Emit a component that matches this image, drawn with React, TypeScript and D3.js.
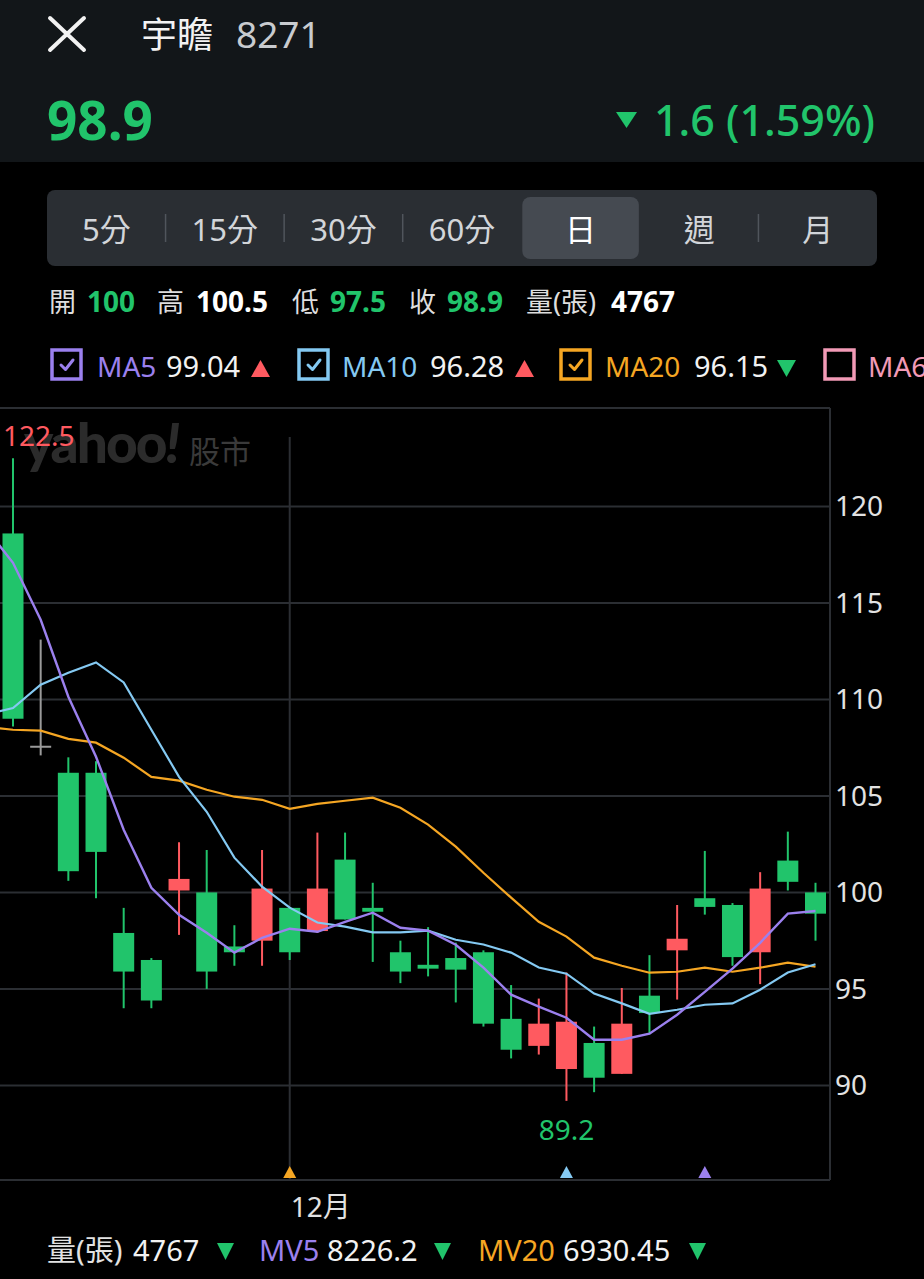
import * as d3 from "d3";

const FONT = "'Noto Sans', 'Noto Sans CJK TC', sans-serif";
const GREEN = "#21c46b";
const RED = "#ff5a60";
const PURPLE = "#9b80ee";
const BLUE = "#84c9f2";
const ORANGE = "#f5a623";
const PINK = "#f29ab6";

// daily candles, left to right (last = today)
const opens = [118.6, 107.6, 106.2, 106.2, 97.9, 96.5, 100.1, 100.0, 97.2, 97.5, 99.2, 98.0, 101.7, 99.2, 96.9, 96.25, 96.6, 96.9, 93.45, 92.05, 90.85, 92.2, 90.6, 94.65, 97.0, 99.7, 99.35, 96.9, 101.65, 100];
const highs = [122.5, 113.1, 107.0, 106.8, 99.2, 96.6, 102.6, 102.2, 98.3, 102.2, 99.2, 103.1, 103.1, 100.5, 97.5, 98.2, 97.4, 97.0, 95.2, 94.5, 95.85, 93.05, 95.05, 96.75, 99.35, 102.15, 99.45, 101.05, 103.15, 100.5];
const lows = [108.6, 107.1, 100.6, 99.7, 94.0, 94.0, 97.8, 95.0, 96.2, 96.2, 96.5, 97.9, 98.6, 96.4, 95.3, 95.65, 94.3, 93.05, 91.4, 91.6, 89.2, 89.65, 90.6, 92.65, 94.45, 98.85, 96.2, 95.25, 100.1, 97.5];
const closes = [109.0, 107.6, 101.1, 102.1, 95.9, 94.4, 100.7, 95.9, 96.9, 100.2, 96.9, 100.2, 98.6, 99.0, 95.9, 96.05, 96.0, 93.2, 91.85, 93.2, 93.3, 90.4, 93.2, 93.75, 97.6, 99.25, 96.65, 100.2, 100.55, 98.9];

// moving averages; first entry is the day just off the left edge
const ma5 = [118.9, 117.08, 114.13, 110.14, 107.03, 103.25, 100.24, 98.84, 97.91, 96.88, 97.65, 98.12, 97.96, 98.48, 98.95, 98.17, 98.02, 97.29, 96.1, 94.7, 94.08, 93.51, 92.37, 92.37, 92.68, 93.66, 94.85, 96.05, 97.39, 98.9, 99.04];
const ma10 = [109.21, 109.55, 110.76, 111.38, 111.92, 110.88, 108.43, 105.99, 104.18, 101.8, 100.3, 99.21, 98.44, 98.23, 97.93, 97.93, 98.02, 97.55, 97.3, 96.88, 96.11, 95.79, 94.76, 94.25, 93.71, 93.92, 94.18, 94.25, 94.96, 95.85, 96.28];
const ma20 = [108.59, 108.43, 108.38, 107.96, 107.76, 106.98, 105.99, 105.79, 105.32, 104.96, 104.8, 104.33, 104.59, 104.75, 104.91, 104.39, 103.51, 102.37, 101.02, 99.73, 98.48, 97.71, 96.62, 96.2, 95.84, 95.89, 96.1, 95.89, 96.1, 96.36, 96.15];

const priceTicks = [90, 95, 100, 105, 110, 115, 120];
const monthTick = { index: 10, label: "12月" };
const signals = [
  { index: 10, color: ORANGE },
  { index: 20, color: BLUE },
  { index: 25, color: PURPLE },
];

const periods = ["5分", "15分", "30分", "60分", "日", "週", "月"];
const selectedPeriod = "日";

const quoteLabels = ["開", "高", "低", "收", "量(張)"];
const quoteValues = ["100", "100.5", "97.5", "98.9", "4767"];
const quoteColors = [GREEN, "#ffffff", GREEN, GREEN, "#ffffff"];

const maNames = ["MA5", "MA10", "MA20", "MA60"];
const maValues = ["99.04", "96.28", "96.15", ""];
const maTrend = ["up", "up", "down", ""];
const maColors = [PURPLE, BLUE, ORANGE, PINK];
const maChecked = [true, true, true, false];

const volNames = ["量(張)", "MV5", "MV20"];
const volValues = ["4767", "8226.2", "6930.45"];
const volColors = ["#e2e2e2", PURPLE, ORANGE];

const Tri = ({ x, y, w, h, up, fill }: { x: number; y: number; w: number; h: number; up: boolean; fill: string }) => (
  <path
    d={up ? `M${x},${y + h}L${x + w / 2},${y}L${x + w},${y + h}Z` : `M${x},${y}L${x + w},${y}L${x + w / 2},${y + h}Z`}
    fill={fill}
  />
);

const App = () => {
  const W = 924;
  const H = 1279;
  const plot = { left: 0, right: 830, top: 408, bottom: 1180 };

  const x = d3.scaleLinear().domain([0, 29]).range([13, 815.5]);
  const y = d3.scaleLinear().domain([85.1, 125.1]).range([plot.bottom, plot.top]);
  const candleW = 21;

  const maLine = d3
    .line<number>()
    .x((_, i) => x(i - 1))
    .y((d) => y(d));

  const seg = d3.scaleBand<string>().domain(periods).range([47, 877]);

  const hiIdx = d3.maxIndex(highs);
  const loIdx = d3.minIndex(lows);

  // layout for the text rows
  const quoteLabelX = [49, 157, 292, 409, 526];
  const quoteValueX = [87, 196, 330, 447, 611];
  const boxX = [50, 297, 559, 823];
  const nameX = [97, 342, 605, 868];
  const valX = [166, 430, 694, 0];
  const triX = [251, 515, 777, 0];
  const volNameX = [47, 259, 478];
  const volValX = [133, 327, 563];
  const volTriX = [217, 434, 689];

  return (
    <svg
      width={W}
      height={H}
      style={{ position: "absolute", left: 0, top: 0, display: "block" }}
      fontFamily={FONT}
    >
      <defs>
        <clipPath id="plotClip">
          <rect x={plot.left} y={plot.top} width={plot.right - plot.left} height={plot.bottom - plot.top} />
        </clipPath>
      </defs>
      <rect width={W} height={H} fill="#000" />

      {/* header */}
      <rect width={W} height={162} fill="#121619" />
      <path d="M50,18L84,50M84,18L50,50" stroke="#f2f2f2" strokeWidth={4} strokeLinecap="round" />
      <text x={141} y={48} fontSize={36} fill="#f2f2f2">宇瞻</text>
      <text x={236} y={48} fontSize={37} fill="#c8cbcf">8271</text>
      <text x={47} y={140} fontSize={53} fontWeight={700} fill={GREEN}>98.9</text>
      <Tri x={616} y={112} w={21} h={16} up={false} fill={GREEN} />
      <text x={875} y={136} fontSize={43} fontWeight={500} fill={GREEN} textAnchor="end">1.6 (1.59%)</text>

      {/* period selector */}
      <rect x={47} y={190} width={830} height={76} rx={8} fill="#2a2e33" />
      {periods.map((p, i) => {
        const bx = seg(p)!;
        const bw = seg.bandwidth();
        const sel = p === selectedPeriod;
        const prevSel = i > 0 && periods[i - 1] === selectedPeriod;
        return (
          <g key={p}>
            {sel && <rect x={bx + 1} y={197} width={bw - 2} height={62} rx={8} fill="#454a51" />}
            {i > 0 && !sel && !prevSel && (
              <line x1={bx} x2={bx} y1={214} y2={242} stroke="#50555c" strokeWidth={1.5} />
            )}
            <text x={bx + bw / 2} y={241} fontSize={31} fill={sel ? "#ffffff" : "#d2d5d9"} textAnchor="middle">
              {p}
            </text>
          </g>
        );
      })}

      {/* quote row */}
      {quoteLabels.map((l, i) => (
        <g key={l}>
          <text x={quoteLabelX[i]} y={312} fontSize={27} fill="#dedede">{l}</text>
          <text x={quoteValueX[i]} y={312} fontSize={28} fontWeight={700} fill={quoteColors[i]}>{quoteValues[i]}</text>
        </g>
      ))}

      {/* MA legend */}
      {maNames.map((n, i) => (
        <g key={n}>
          <rect x={boxX[i] + 2} y={350} width={29} height={29} fill="#000" stroke={maColors[i]} strokeWidth={3.5} />
          {maChecked[i] && (
            <path
              d={`M${boxX[i] + 11},${365}L${boxX[i] + 15.5},${369.5}L${boxX[i] + 23},${360}`}
              fill="none"
              stroke={maColors[i]}
              strokeWidth={3}
              strokeLinecap="round"
              strokeLinejoin="round"
            />
          )}
          <text x={nameX[i]} y={376.5} fontSize={28} fill={maColors[i]}>{n}</text>
          {maValues[i] && <text x={valX[i]} y={376.5} fontSize={29} fill="#f2f2f2">{maValues[i]}</text>}
          {maTrend[i] && (
            <Tri x={triX[i]} y={360} w={19} h={17} up={maTrend[i] === "up"} fill={maTrend[i] === "up" ? RED : GREEN} />
          )}
        </g>
      ))}

      {/* grid */}
      <g stroke="#2b2e33" strokeWidth={2}>
        <line x1={plot.left} x2={plot.right} y1={plot.top} y2={plot.top} />
        <line x1={plot.left} x2={plot.right} y1={plot.bottom} y2={plot.bottom} />
        <line x1={plot.right} x2={plot.right} y1={plot.top} y2={plot.bottom} />
        {priceTicks.map((t) => (
          <line key={t} x1={plot.left} x2={plot.right} y1={y(t)} y2={y(t)} />
        ))}
        <line x1={x(monthTick.index)} x2={x(monthTick.index)} y1={437} y2={plot.bottom} />
      </g>
      {priceTicks.map((t) => (
        <text key={t} x={835} y={y(t) + 10} fontSize={28} fill="#e2e2e2">{t}</text>
      ))}
      <text x={x(monthTick.index) + 1} y={1217} fontSize={28} fill="#e2e2e2">{monthTick.label}</text>

      {/* watermark */}
      <text x={24} y={463} fontSize={55} fontWeight={900} fill="#2b2b2b" fontFamily="Lato, 'DejaVu Sans', sans-serif" letterSpacing={-2}>
        yahoo<tspan fontStyle="italic">!</tspan>
      </text>
      <text x={189} y={463} fontSize={31} fill="#3a3a3a" fontFamily="'Noto Sans CJK TC', sans-serif">股市</text>

      {/* candles */}
      <g clipPath="url(#plotClip)">
        {closes.map((c, i) => {
          const o = opens[i];
          const col = c > o ? RED : c < o ? GREEN : "#9a9a9a";
          const top = y(Math.max(o, c));
          const bot = y(Math.min(o, c));
          return (
            <g key={i}>
              <line x1={x(i)} x2={x(i)} y1={y(highs[i])} y2={y(lows[i])} stroke={col} strokeWidth={2} />
              <rect x={x(i) - candleW / 2} y={top} width={candleW} height={Math.max(bot - top, 2)} fill={col} />
            </g>
          );
        })}
        <path d={maLine(ma20) ?? undefined} fill="none" stroke={ORANGE} strokeWidth={2.2} />
        <path d={maLine(ma10) ?? undefined} fill="none" stroke={BLUE} strokeWidth={2.2} />
        <path d={maLine(ma5) ?? undefined} fill="none" stroke={PURPLE} strokeWidth={2.4} />
      </g>

      {/* extremes */}
      <text x={x(hiIdx) - 10} y={446} fontSize={28} fill={RED}>{highs[hiIdx]}</text>
      <text x={x(loIdx)} y={y(lows[loIdx]) + 39} fontSize={28} fill={GREEN} textAnchor="middle">{lows[loIdx]}</text>

      {/* cross signals */}
      {signals.map((s) => (
        <Tri key={s.index} x={x(s.index) - 6.5} y={1166} w={13} h={12} up={true} fill={s.color} />
      ))}

      {/* volume summary */}
      {volNames.map((n, i) => (
        <g key={n}>
          <text x={volNameX[i]} y={1261} fontSize={29} fill={volColors[i]}>{n}</text>
          <text x={volValX[i]} y={1261} fontSize={29} fill="#f2f2f2">{volValues[i]}</text>
          <Tri x={volTriX[i]} y={1243} w={17} h={17} up={false} fill={GREEN} />
        </g>
      ))}
    </svg>
  );
};

export default App;
